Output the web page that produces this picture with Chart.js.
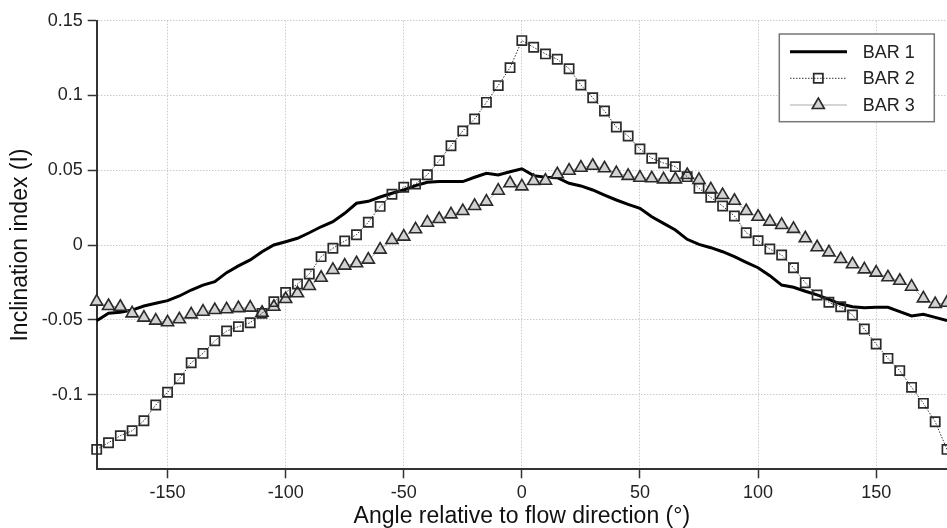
<!DOCTYPE html>
<html><head><meta charset="utf-8">
<script src="https://cdn.jsdelivr.net/npm/chart.js@4.4.1/dist/chart.umd.min.js"></script>
<style>html,body{margin:0;padding:0;background:#fff;}#wrap{width:947px;height:528px;position:relative;}</style>
</head><body><div id="wrap"><canvas id="c"></canvas></div>
<script>
const angles = [-180,-175,-170,-165,-160,-155,-150,-145,-140,-135,-130,-125,-120,-115,-110,-105,-100,-95,-90,-85,-80,-75,-70,-65,-60,-55,-50,-45,-40,-35,-30,-25,-20,-15,-10,-5,0,5,10,15,20,25,30,35,40,45,50,55,60,65,70,75,80,85,90,95,100,105,110,115,120,125,130,135,140,145,150,155,160,165,170,175,180];
const bar1 = [-0.0506,-0.0457,-0.0450,-0.0435,-0.0408,-0.0390,-0.0372,-0.0341,-0.0301,-0.0268,-0.0245,-0.0185,-0.0140,-0.0100,-0.0045,0.0000,0.0022,0.0045,0.0082,0.0122,0.0156,0.0212,0.0279,0.0292,0.0321,0.0346,0.0368,0.0397,0.0419,0.0424,0.0424,0.0424,0.0453,0.0480,0.0468,0.0490,0.0510,0.0464,0.0453,0.0450,0.0413,0.0395,0.0368,0.0334,0.0301,0.0272,0.0245,0.0189,0.0145,0.0100,0.0038,0.0004,-0.0018,-0.0045,-0.0078,-0.0116,-0.0152,-0.0205,-0.0268,-0.0283,-0.0309,-0.0334,-0.0363,-0.0395,-0.0413,-0.0419,-0.0417,-0.0417,-0.0446,-0.0475,-0.0464,-0.0484,-0.0506];
const bar2 = [-0.1367,-0.1322,-0.1275,-0.1242,-0.1175,-0.1070,-0.0985,-0.0894,-0.0787,-0.0725,-0.0640,-0.0575,-0.0546,-0.0520,-0.0457,-0.0379,-0.0317,-0.0261,-0.0194,-0.0078,-0.0022,0.0027,0.0069,0.0152,0.0258,0.0339,0.0386,0.0408,0.0470,0.0564,0.0664,0.0763,0.0843,0.0954,0.1066,0.1186,0.1367,0.1322,0.1278,0.1242,0.1179,0.1070,0.0985,0.0896,0.0789,0.0729,0.0642,0.0580,0.0548,0.0524,0.0457,0.0379,0.0319,0.0261,0.0194,0.0082,0.0029,-0.0027,-0.0067,-0.0152,-0.0252,-0.0334,-0.0383,-0.0413,-0.0468,-0.0562,-0.0662,-0.0758,-0.0840,-0.0952,-0.1059,-0.1182,-0.1367];
const bar3 = [-0.0379,-0.0408,-0.0413,-0.0457,-0.0486,-0.0506,-0.0517,-0.0497,-0.0464,-0.0446,-0.0435,-0.0430,-0.0422,-0.0419,-0.0453,-0.0413,-0.0361,-0.0323,-0.0274,-0.0219,-0.0167,-0.0138,-0.0122,-0.0098,-0.0031,0.0033,0.0056,0.0105,0.0149,0.0174,0.0205,0.0227,0.0261,0.0290,0.0363,0.0413,0.0392,0.0428,0.0430,0.0473,0.0497,0.0517,0.0530,0.0513,0.0480,0.0462,0.0450,0.0446,0.0439,0.0439,0.0468,0.0435,0.0372,0.0334,0.0296,0.0227,0.0189,0.0156,0.0134,0.0108,0.0045,-0.0015,-0.0049,-0.0094,-0.0129,-0.0163,-0.0185,-0.0216,-0.0239,-0.0279,-0.0357,-0.0395,-0.0386];
const seriesNames = ['BAR 1','BAR 2','BAR 3'];
const xTicks = [-150,-100,-50,0,50,100,150];
const yTicks = [-0.1,-0.05,0,0.05,0.1,0.15];
const xTitle = 'Angle relative to flow direction (°)';
const yTitle = 'Inclination index (I)';

const FAM = '"Liberation Sans", Arial, Helvetica, sans-serif';
const toPts = arr => angles.map((a,i)=>({x:a,y:arr[i]}));

const legendPlugin = {
  id:'boxLegend',
  afterDraw(chart){
    const ctx = chart.ctx, ca = chart.chartArea;
    const bx = ca.right - 167.7, by = ca.top + 13.3, bw = 155, bh = 87.7;
    ctx.save();
    ctx.fillStyle = '#fff';
    ctx.fillRect(bx,by,bw,bh);
    ctx.strokeStyle = '#777'; ctx.lineWidth = 1.5; ctx.setLineDash([]);
    ctx.strokeRect(bx,by,bw,bh);
    const rows = [17.7, 44.3, 71];
    chart.data.datasets.forEach((ds,i)=>{
      const y = by + rows[i];
      ctx.save();
      ctx.setLineDash(ds.borderDash || []);
      ctx.strokeStyle = ds.borderColor; ctx.lineWidth = ds.borderWidth;
      ctx.beginPath(); ctx.moveTo(bx+10.7,y); ctx.lineTo(bx+67.7,y); ctx.stroke();
      ctx.restore();
      if (ds.pointRadius > 0) {
        ctx.save();
        ctx.setLineDash([]);
        ctx.fillStyle = ds.pointBackgroundColor; ctx.strokeStyle = ds.pointBorderColor; ctx.lineWidth = ds.pointBorderWidth;
        Chart.helpers.drawPoint(ctx,{pointStyle:ds.pointStyle,radius:ds.pointRadius,borderWidth:ds.pointBorderWidth,rotation:0},bx+39,y);
        ctx.restore();
      }
      ctx.fillStyle = '#222'; ctx.font = '18px ' + FAM; ctx.textAlign='left'; ctx.textBaseline='middle';
      ctx.fillText(ds.label, bx+83.4, y+1);
    });
    ctx.restore();
  }
};

new Chart(document.getElementById('c'), {
  type:'line',
  data:{datasets:[
    {label:seriesNames[0], data:toPts(bar1), borderColor:'#000', borderWidth:3, pointRadius:0, tension:0, order:3, clip:false},
    {label:seriesNames[1], data:toPts(bar2), borderColor:'#333', borderWidth:1, borderDash:[1.5,1.5], pointStyle:'rect', pointRadius:6.5, pointBorderWidth:1.7, pointBorderColor:'#2a2a2a', pointBackgroundColor:'rgba(255,255,255,0)', tension:0, order:1, clip:false},
    {label:seriesNames[2], data:toPts(bar3), borderColor:'#aaa', borderWidth:1, pointStyle:'triangle', pointRadius:7, pointBorderWidth:1.6, pointBorderColor:'#2a2a2a', pointBackgroundColor:'#d2d2d2', tension:0, order:2, clip:false}
  ]},
  options:{
    responsive:true, maintainAspectRatio:false, animation:false, devicePixelRatio:1,
    layout:{autoPadding:false, padding:{top:20.7,right:0,left:0,bottom:0}},
    plugins:{legend:{display:false}, tooltip:{enabled:false}},
    events:[],
    scales:{
      x:{type:'linear', min:-180, max:180,
        afterBuildTicks:s=>{s.ticks = xTicks.map(v=>({value:v}));},
        afterFit:s=>{s.height = 58.7; s.paddingLeft = 0; s.paddingRight = 0;},
        ticks:{font:{size:18,family:FAM}, color:'#222', padding:4, maxRotation:0, autoSkip:false, callback:v=>String(v)},
        grid:{color:'#cbcbcb', lineWidth:1, tickColor:'#333', tickLength:9, tickWidth:1.5, tickBorderDash:[]},
        border:{display:true, color:'#333', width:2, dash:[1.5,1.5]},
        title:{display:true, text:xTitle, font:{size:23,family:FAM,lineHeight:1}, color:'#111', padding:0}
      },
      y:{type:'linear', min:-0.15, max:0.15,
        afterBuildTicks:s=>{s.ticks = yTicks.map(v=>({value:v}));},
        afterFit:s=>{s.width = 96.7; s.paddingTop = 0; s.paddingBottom = 0;},
        ticks:{font:{size:18,family:FAM}, color:'#222', padding:5, autoSkip:false, callback:v=>String(Math.round(v*1000)/1000)},
        grid:{color:'#cbcbcb', lineWidth:1, tickColor:'#333', tickLength:9, tickWidth:1.5, tickBorderDash:[]},
        border:{display:true, color:'#333', width:2, dash:[1.5,1.5]},
        title:{display:true, text:yTitle, font:{size:23,family:FAM,lineHeight:1}, color:'#111', padding:{top:9.5,bottom:0}}
      }
    }
  },
  plugins:[legendPlugin]
});
</script></body></html>
